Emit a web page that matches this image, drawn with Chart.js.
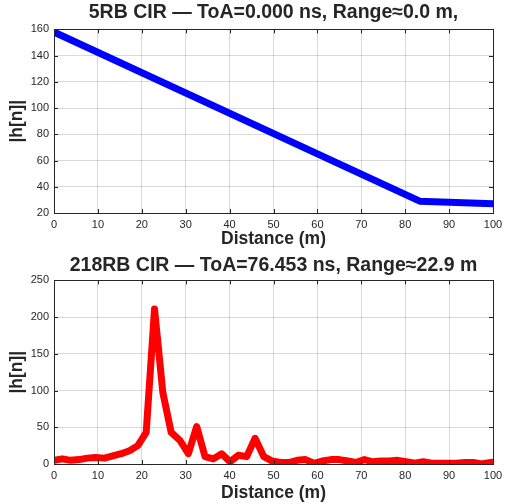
<!DOCTYPE html>
<html>
<head>
<meta charset="utf-8">
<script src="https://cdn.jsdelivr.net/npm/chart.js@4/dist/chart.umd.min.js"></script>
<style>
  body { margin: 0; background: #fff; }
  canvas { display: block; }
</style>
</head>
<body>
<canvas id="top" width="515" height="250"></canvas>
<canvas id="bottom" width="515" height="254"></canvas>
<script>
// 5RB CIR (coarse sampling)
var dist5 = [0, 83.3, 100];
var amp5 = [158, 29, 27];

// 218RB CIR
var dist218 = [0, 1.9, 3.8, 5.7, 7.6, 9.5, 11.5, 13.4, 15.3, 17.2, 19.1, 21.0, 22.9, 24.8, 26.7, 28.7,
  30.6, 32.5, 34.4, 36.3, 38.2, 40.1, 42.0, 43.9, 45.8, 47.8, 49.7, 51.6, 53.5, 55.4, 57.3, 59.2,
  61.1, 63.1, 65.0, 66.9, 68.8, 70.7, 72.6, 74.5, 76.4, 78.3, 80.2, 82.2, 84.1, 86.0, 87.9, 89.8,
  91.7, 93.6, 95.5, 97.4, 99.4, 101.3];
var amp218 = [5, 7, 5, 6, 8, 9, 8, 11, 14, 18, 25, 43, 211, 97, 43, 32,
  14, 51, 10, 7, 14, 3, 12, 10, 35, 10, 4, 2, 2, 5, 6, 1,
  4, 6, 6, 4, 2, 6, 3, 4, 4, 5, 3, 1, 3, 1, 1, 1,
  1, 2, 2, 0, 2, 3];

var xTicks = [0, 10, 20, 30, 40, 50, 60, 70, 80, 90, 100];
var FONT = 'Liberation Sans, Arial, sans-serif';

var boxPlugin = {
  id: 'box',
  afterDraw: function(chart) {
    var a = chart.chartArea, ctx = chart.ctx;
    ctx.save();
    ctx.strokeStyle = '#262626';
    ctx.lineWidth = 1;
    ctx.beginPath();
    // inward ticks
    var xs = chart.scales.x, ys = chart.scales.y;
    xs.ticks.forEach(function(t) {
      var px = Math.round(xs.getPixelForValue(t.value)) + 0.5;
      ctx.moveTo(px, a.bottom); ctx.lineTo(px, a.bottom - 4);
      ctx.moveTo(px, a.top); ctx.lineTo(px, a.top + 4);
    });
    ys.ticks.forEach(function(t) {
      var py = Math.round(ys.getPixelForValue(t.value)) + 0.5;
      ctx.moveTo(a.left, py); ctx.lineTo(a.left + 4, py);
      ctx.moveTo(a.right, py); ctx.lineTo(a.right - 4, py);
    });
    ctx.stroke();
    ctx.strokeRect(Math.round(a.left) + 0.5, Math.round(a.top) + 0.5,
      Math.round(a.right - a.left), Math.round(a.bottom - a.top));
    ctx.restore();
  }
};

function makeChart(id, xs, ys, color, title, ymin, ymax, ystep, axisH, titlePad) {
  var pts = [];
  for (var i = 0; i < xs.length; i++) pts.push({x: xs[i], y: ys[i]});
  return new Chart(document.getElementById(id), {
    type: 'line',
    data: {
      datasets: [{
        data: pts,
        borderColor: color,
        borderWidth: 7,
        pointRadius: 0,
        fill: false,
        tension: 0,
        borderJoinStyle: 'round',
        borderCapStyle: 'round'
      }]
    },
    options: {
      responsive: false,
      animation: false,
      layout: { padding: { left: 7, right: 22, top: 0, bottom: 0 } },
      plugins: {
        legend: { display: false },
        tooltip: { enabled: false },
        title: {
          display: true,
          fullSize: false,
          text: title,
          color: '#262626',
          font: { family: FONT, size: 19.5, weight: 'bold' },
          padding: titlePad
        }
      },
      scales: {
        x: {
          type: 'linear',
          min: 0, max: 100,
          afterFit: function(s) { s.height = axisH; },
          afterBuildTicks: function(s) { s.ticks = xTicks.map(function(v) { return {value: v}; }); },
          grid: { color: 'rgba(0,0,0,0.15)', drawTicks: false },
          border: { display: false },
          ticks: { color: '#262626', padding: 5, maxRotation: 0,
            font: { family: FONT, size: 11 } },
          title: { display: true, text: 'Distance (m)', color: '#262626', padding: 0,
            font: { family: FONT, size: 17.5, weight: 'bold' } }
        },
        y: {
          min: ymin, max: ymax,
          afterFit: function(s) { s.width = 47; },
          grid: { color: 'rgba(0,0,0,0.15)', drawTicks: false },
          border: { display: false },
          ticks: { stepSize: ystep, color: '#262626', padding: 5,
            font: { family: FONT, size: 11 } },
          title: { display: true, text: '|h[n]|', color: '#262626', padding: 0,
            font: { family: FONT, size: 17.5, weight: 'bold' } }
        }
      }
    },
    plugins: [boxPlugin]
  });
}

makeChart('top', dist5, amp5, '#0000ff', '5RB CIR \u2014 ToA=0.000 ns, Range\u22480.0 m,',
  20, 160, 20, 37, {top: 1, bottom: 5});
makeChart('bottom', dist218, amp218, '#ff0000', '218RB CIR \u2014 ToA=76.453 ns, Range\u224822.9 m',
  0, 250, 50, 40, {top: 4, bottom: 3});
</script>
</body>
</html>
